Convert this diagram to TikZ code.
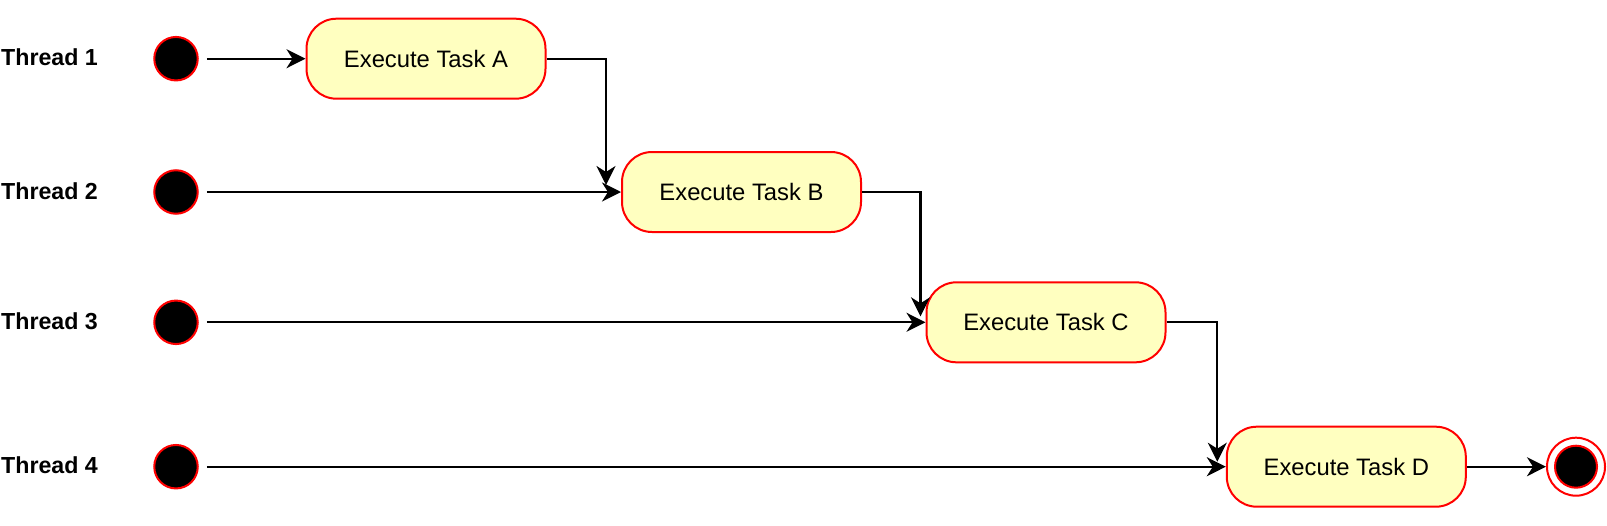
\documentclass[tikz,border=0pt]{standalone}
\usepackage{fontspec}
\setmainfont{Liberation Sans}
\usetikzlibrary{arrows.meta,calc}
\definecolor{taskfill}{HTML}{FFFFC0}
\begin{document}
\begin{tikzpicture}[x=1pt,y=-1pt,
  task/.style={draw=red, fill=taskfill, line width=2pt, rounded corners=30pt,
    minimum width=239pt, minimum height=80pt, inner sep=0pt,
    font=\fontsize{23.8}{28}\selectfont},
  startdot/.style={circle, draw=red, fill=black, line width=2pt,
    minimum size=43.5pt, inner sep=0pt},
  lbl/.style={font=\bfseries\fontsize{23.2}{28}\selectfont, inner sep=0pt, anchor=base west},
  flow/.style={line width=2.2pt, -{Stealth[length=19pt,width=19pt,inset=6pt]}}]
\useasboundingbox (0,0) rectangle (1607,525);
% labels
\node[lbl] (t1) at (1,65.9) {Thread 1};
\node[lbl] (t2) at (1,199.2) {Thread 2};
\node[lbl] (t3) at (1,329.5) {Thread 3};
\node[lbl] (t4) at (1,473.9) {Thread 4};
% start dots
\node[startdot] (s1) at (176,58.7) {};
\node[startdot] (s2) at (176,192) {};
\node[startdot] (s3) at (176,322.3) {};
\node[startdot] (s4) at (176,466.7) {};
% tasks
\node[task] (A) at (426,58.7) {Execute Task A};
\node[task] (B) at (741.5,192) {Execute Task B};
\node[task] (C) at (1046,322.3) {Execute Task C};
\node[task] (D) at (1346.3,466.7) {Execute Task D};
% end
\node[circle, draw=red, fill=white, line width=2pt, minimum size=58pt, inner sep=0pt] (eo) at (1576,466.7) {};
\node[circle, draw=red, fill=black, line width=2pt, minimum size=42pt, inner sep=0pt] (ei) at (eo) {};
% flows
\draw[flow] ([xshift=8pt]s1.east) -- (A.west);
\draw[flow] ([xshift=8pt]s2.east) -- (B.west);
\draw[flow] ([xshift=8pt]s3.east) -- (C.west);
\draw[flow] ([xshift=8pt]s4.east) -- (D.west);
\draw[flow] (A.east) -| ($(B.west)+(-15,-7)$);
\draw[flow] (B.east) -| ($(C.west)+(-5,-6)$);
\draw[flow] (C.east) -| ($(D.west)+(-8.5,-5)$);
\draw[flow] (D.east) -- (eo.west);
\end{tikzpicture}
\end{document}
